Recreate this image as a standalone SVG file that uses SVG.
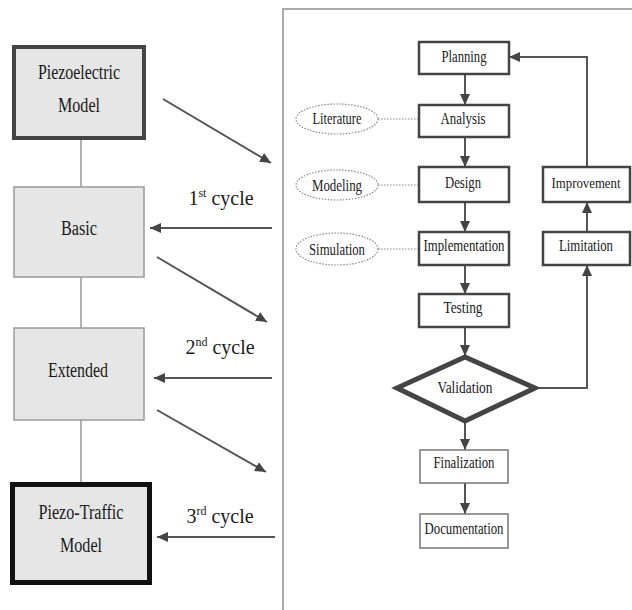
<svg xmlns="http://www.w3.org/2000/svg" width="632" height="610" viewBox="0 0 632 610">
  <style>
    text { font-family: "Liberation Serif", "Times New Roman", serif; fill: #1a1a1a; text-anchor: middle; }
    .big { font-size: 20px; }
    .sm { font-size: 16px; }
    .sup { font-size: 12px; }
    .stage { fill: #e6e6e6; }
    .thin { stroke: #999; stroke-width: 1.5; }
    .step { fill: #fff; stroke: #444; stroke-width: 2.5; }
    .plain { fill: #fff; stroke: #777; stroke-width: 1.5; }
    .src { fill: #fff; stroke: #888; stroke-width: 1.2; stroke-dasharray: 1.5 1.5; }
    .link { stroke: #999; stroke-width: 1.5; fill: none; }
    .arrow { stroke: #555; stroke-width: 2; fill: none; marker-end: url(#head); }
    .flow { stroke: #555; stroke-width: 2; fill: none; marker-end: url(#head); }
    .dot { stroke: #888; stroke-width: 1.2; stroke-dasharray: 1.5 1.5; fill: none; }
  </style>
  <defs>
    <marker id="head" markerUnits="userSpaceOnUse" markerWidth="12" markerHeight="12" viewBox="0 0 12 12" refX="11" refY="6" orient="auto">
      <path d="M0,1 L11,6 L0,11 Z" fill="#444"/>
    </marker>
  </defs>

  <!-- process panel frame -->
  <path d="M283,610 V9 H632" fill="none" stroke="#aaa" stroke-width="2"/>

  <!-- connectors -->
  <g id="connectors">
    <!-- stage chain -->
    <line class="link" x1="81" y1="140" x2="81" y2="187"/>
    <line class="link" x1="81" y1="277" x2="81" y2="328"/>
    <line class="link" x1="81" y1="420" x2="81" y2="482"/>
    <!-- cycle arrows -->
    <line class="arrow" x1="163" y1="99" x2="271" y2="163"/>
    <line class="arrow" x1="272" y1="228" x2="150" y2="228"/>
    <line class="arrow" x1="157" y1="257" x2="267" y2="322"/>
    <line class="arrow" x1="272" y1="378" x2="154" y2="378"/>
    <line class="arrow" x1="157" y1="410" x2="266" y2="472"/>
    <line class="arrow" x1="275" y1="537" x2="157" y2="537"/>
    <!-- main flow -->
    <line class="flow" x1="465" y1="74" x2="465" y2="105"/>
    <line class="flow" x1="465" y1="137" x2="465" y2="167"/>
    <line class="flow" x1="465" y1="202" x2="465" y2="232"/>
    <line class="flow" x1="465" y1="265" x2="465" y2="294"/>
    <line class="flow" x1="465" y1="327" x2="465" y2="356"/>
    <line class="flow" x1="465" y1="421" x2="465" y2="450"/>
    <line class="flow" x1="465" y1="483" x2="465" y2="514"/>
    <!-- feedback loop -->
    <path class="flow" d="M535,388 H587 V265"/>
    <line class="flow" x1="587" y1="232" x2="587" y2="202"/>
    <path class="flow" d="M587,167 V57 H509"/>
    <!-- sources -->
    <line class="dot" x1="378" y1="119" x2="419" y2="119"/>
    <line class="dot" x1="378" y1="185" x2="419" y2="185"/>
    <line class="dot" x1="378" y1="249" x2="419" y2="249"/>
  </g>

  <!-- cycle labels -->
  <g id="cycle-labels">
    <text class="big" x="221" y="205">1<tspan class="sup" dy="-8">st</tspan><tspan dy="8"> cycle</tspan></text>
    <text class="big" x="220" y="354">2<tspan class="sup" dy="-8">nd</tspan><tspan dy="8"> cycle</tspan></text>
    <text class="big" x="220" y="523">3<tspan class="sup" dy="-8">rd</tspan><tspan dy="8"> cycle</tspan></text>
  </g>

  <!-- model stages -->
  <g id="piezoelectric-model">
    <rect class="stage" x="14" y="47" width="130" height="91" stroke="#444" stroke-width="4"/>
    <text class="big" x="79" y="79" textLength="82" lengthAdjust="spacingAndGlyphs">Piezoelectric</text>
    <text class="big" x="79" y="112" textLength="42" lengthAdjust="spacingAndGlyphs">Model</text>
  </g>
  <g id="basic">
    <rect class="stage thin" x="14" y="187" width="130" height="90"/>
    <text class="big" x="79" y="235" textLength="36" lengthAdjust="spacingAndGlyphs">Basic</text>
  </g>
  <g id="extended">
    <rect class="stage thin" x="14" y="328" width="130" height="92"/>
    <text class="big" x="78" y="377" textLength="60" lengthAdjust="spacingAndGlyphs">Extended</text>
  </g>
  <g id="piezo-traffic-model">
    <rect class="stage" x="12.5" y="484.5" width="137" height="98" stroke="#111" stroke-width="5"/>
    <text class="big" x="81" y="519" textLength="85" lengthAdjust="spacingAndGlyphs">Piezo-Traffic</text>
    <text class="big" x="81" y="552" textLength="42" lengthAdjust="spacingAndGlyphs">Model</text>
  </g>

  <!-- process steps -->
  <g id="planning">
    <rect class="step" x="419" y="42" width="90" height="32"/>
    <text class="sm" x="464" y="62" textLength="45" lengthAdjust="spacingAndGlyphs">Planning</text>
  </g>
  <g id="analysis">
    <rect class="step" x="419" y="105" width="90" height="32"/>
    <text class="sm" x="463" y="124" textLength="45" lengthAdjust="spacingAndGlyphs">Analysis</text>
  </g>
  <g id="design">
    <rect class="step" x="419" y="167" width="90" height="35"/>
    <text class="sm" x="463" y="188" textLength="36" lengthAdjust="spacingAndGlyphs">Design</text>
  </g>
  <g id="implementation">
    <rect class="step" x="419" y="232" width="90" height="33"/>
    <text class="sm" x="464" y="251" textLength="81" lengthAdjust="spacingAndGlyphs">Implementation</text>
  </g>
  <g id="testing">
    <rect class="step" x="419" y="294" width="90" height="33"/>
    <text class="sm" x="463" y="313" textLength="39" lengthAdjust="spacingAndGlyphs">Testing</text>
  </g>
  <g id="validation">
    <polygon points="465,357 535,388 465,421 397,388" fill="#fff" stroke="#444" stroke-width="5" stroke-linejoin="miter"/>
    <text class="sm" x="465" y="393" textLength="55" lengthAdjust="spacingAndGlyphs">Validation</text>
  </g>
  <g id="finalization">
    <rect class="plain" x="420" y="450" width="88" height="33"/>
    <text class="sm" x="464" y="468" textLength="61" lengthAdjust="spacingAndGlyphs">Finalization</text>
  </g>
  <g id="documentation">
    <rect class="plain" x="420" y="514" width="88" height="34"/>
    <text class="sm" x="464" y="534" textLength="79" lengthAdjust="spacingAndGlyphs">Documentation</text>
  </g>
  <g id="improvement">
    <rect class="step" x="543" y="167" width="87" height="35"/>
    <text class="sm" x="586" y="188" font-size="14" style="font-size:14px" textLength="69" lengthAdjust="spacingAndGlyphs">Improvement</text>
  </g>
  <g id="limitation">
    <rect class="step" x="543" y="232" width="87" height="33"/>
    <text class="sm" x="586" y="251" textLength="54" lengthAdjust="spacingAndGlyphs">Limitation</text>
  </g>

  <!-- supporting activities -->
  <g id="literature">
    <ellipse class="src" cx="337" cy="119" rx="41" ry="15"/>
    <text class="sm" x="337" y="124" textLength="49" lengthAdjust="spacingAndGlyphs">Literature</text>
  </g>
  <g id="modeling">
    <ellipse class="src" cx="337" cy="185" rx="41" ry="15"/>
    <text class="sm" x="337" y="191" textLength="50" lengthAdjust="spacingAndGlyphs">Modeling</text>
  </g>
  <g id="simulation">
    <ellipse class="src" cx="337" cy="249" rx="41" ry="16"/>
    <text class="sm" x="337" y="255" textLength="56" lengthAdjust="spacingAndGlyphs">Simulation</text>
  </g>
</svg>
